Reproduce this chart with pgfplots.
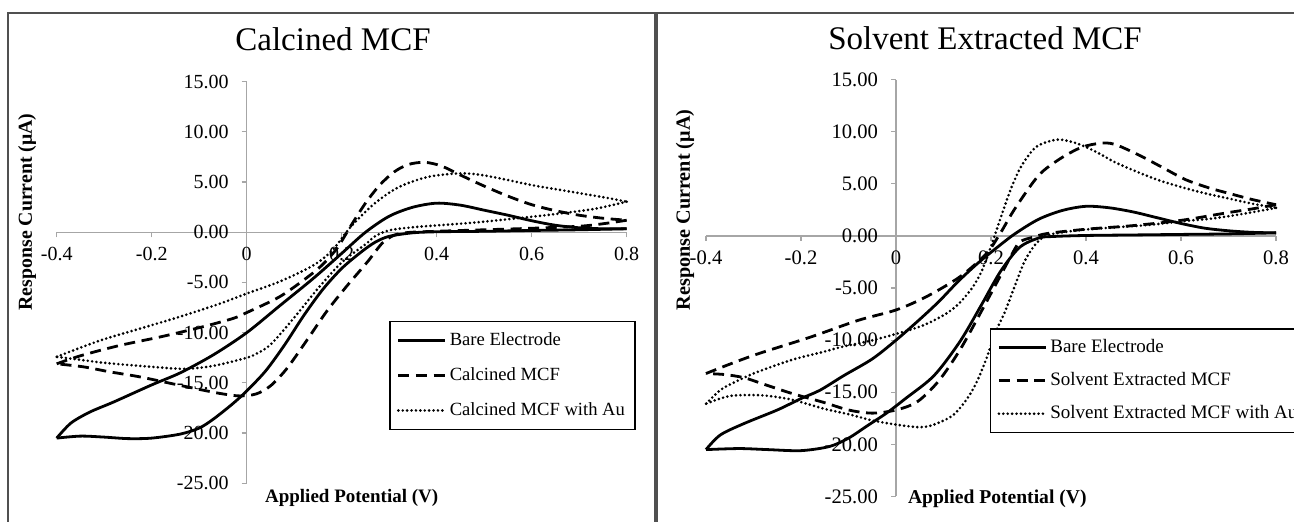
\documentclass[border=0pt]{standalone}
\usepackage{fontspec}
\setmainfont{Liberation Serif}
\usepackage{pgfplots}
\pgfplotsset{compat=1.18}
\definecolor{axisgray}{HTML}{A6A6A6}
\definecolor{framegray}{HTML}{505050}
\pgfplotsset{
  cv/.style={
    scale only axis, width=285pt,
    xmin=-0.4, xmax=0.8, ymin=-25, ymax=15,
    axis lines=middle,
    axis line style={-, draw=axisgray, line width=0.6pt},
    xtick={-0.4,-0.2,0,0.2,0.4,0.6,0.8},
    xticklabels={-0.4,-0.2,0,0.2,0.4,0.6,0.8},
    ytick={-25,-20,-15,-10,-5,0,5,10,15},
    yticklabels={-25.00,-20.00,-15.00,-10.00,-5.00,0.00,5.00,10.00,15.00},
    hide obscured x ticks=false, hide obscured y ticks=false,
    tick align=outside, major tick length=2.5pt,
    tick style={draw=axisgray, line width=0.6pt},
    xticklabel style={yshift=-1.5pt},
    yticklabel style={xshift=-3pt},
    clip=false,
    legend cell align=left,
    legend image code/.code={\draw[##1] (0pt,0pt) -- (23.5pt,0pt);},
  },
  bare/.style={black, line width=1.4pt, smooth, tension=0.5},
  dsh/.style={black, line width=1.4pt, dash pattern=on 5.5pt off 3.3pt, smooth, tension=0.5},
  dtt/.style={black, line width=1.45pt, line cap=round, dash pattern=on 0pt off 2.2pt, smooth, tension=0.5},
}
\begin{document}
\begin{tikzpicture}
\useasboundingbox (0,0) rectangle (647pt,261pt);
\clip (0,0) rectangle (647pt,261pt);
% ---------------- Left panel ----------------
\begin{axis}[cv, at={(28.35pt,19.35pt)}, anchor=south west, height=200.8pt,
  tick label style={font=\fontsize{10}{11}\selectfont, text=black},
  title={Calcined MCF},
  title style={at={(0.4847,1.0466)}, anchor=base, font=\fontsize{16.5}{18}\selectfont},
  xlabel={Applied Potential (V)},
  every axis x label/.style={at={(axis description cs:0.3532,-0.0366)}, anchor=west, font=\bfseries\fontsize{9.5}{11}\selectfont},
  ylabel={Response Current (μA)},
  every axis y label/.style={at={(axis description cs:-0.0521,0.6755)}, rotate=90, anchor=center, font=\bfseries\fontsize{9.9}{11}\selectfont},
  legend style={at={(0.5835,0.4049)}, anchor=north west, draw=black, line width=0.6pt, fill=white,
    font=\fontsize{9.3}{11}\selectfont, inner xsep=3.5pt, inner ysep=3.6pt, row sep=5.5pt,
    nodes={inner xsep=1.5pt, inner ysep=2pt, text height=6.5pt, text depth=1.5pt}},
]
\addplot[bare] coordinates {(-0.4,-20.5) (-0.37,-19.0) (-0.33,-17.9) (-0.28,-16.9) (-0.2,-15.2) (-0.14,-14.0) (-0.07,-12.2) (0,-10.0) (0.07,-7.3) (0.14,-4.6) (0.2,-2.1) (0.25,0.0) (0.3,1.6) (0.35,2.5) (0.4,2.9) (0.45,2.7) (0.5,2.2) (0.55,1.7) (0.6,1.15) (0.65,0.7) (0.7,0.45) (0.75,0.35) (0.8,0.35)};
\addlegendentry{Bare Electrode}
\addplot[bare, forget plot] coordinates {(0.8,0.35) (0.7,0.25) (0.6,0.18) (0.5,0.1) (0.4,0.05) (0.35,-0.05) (0.3,-0.4) (0.27,-1.0) (0.24,-2.0) (0.2,-3.6) (0.16,-5.7) (0.12,-8.3) (0.08,-11.2) (0.04,-13.8) (0,-15.8) (-0.03,-17.1) (-0.07,-18.6) (-0.1,-19.5) (-0.14,-20.1) (-0.2,-20.5) (-0.25,-20.55) (-0.3,-20.4) (-0.35,-20.3) (-0.4,-20.5)};
\addplot[dsh] coordinates {(-0.4,-13.1) (-0.35,-12.3) (-0.27,-11.3) (-0.18,-10.4) (-0.1,-9.5) (-0.03,-8.6) (0,-8.0) (0.07,-6.4) (0.13,-4.4) (0.16,-3.2) (0.19,-1.6) (0.22,0.7) (0.25,2.9) (0.28,4.7) (0.31,6.0) (0.34,6.75) (0.375,6.97) (0.41,6.6) (0.45,5.7) (0.5,4.6) (0.55,3.6) (0.6,2.75) (0.65,2.15) (0.7,1.7) (0.75,1.4) (0.8,1.2)};
\addlegendentry{Calcined MCF}
\addplot[dsh, forget plot] coordinates {(0.8,1.2) (0.75,0.85) (0.7,0.6) (0.6,0.4) (0.5,0.25) (0.4,0.1) (0.34,-0.02) (0.31,-0.3) (0.285,-1.1) (0.255,-2.9) (0.21,-5.4) (0.168,-7.9) (0.126,-10.8) (0.084,-13.6) (0.05,-15.3) (0.02,-16.1) (-0.014,-16.3) (-0.05,-16.1) (-0.084,-15.8) (-0.155,-15.1) (-0.225,-14.4) (-0.288,-13.9) (-0.344,-13.4) (-0.4,-13.1)};
\addplot[dtt] coordinates {(-0.4,-12.4) (-0.31,-10.8) (-0.225,-9.6) (-0.14,-8.4) (-0.056,-7.1) (0,-6.1) (0.07,-4.9) (0.14,-3.3) (0.18,-1.8) (0.22,0.6) (0.27,2.9) (0.32,4.5) (0.38,5.5) (0.44,5.85) (0.48,5.8) (0.53,5.4) (0.6,4.7) (0.65,4.3) (0.7,3.9) (0.75,3.5) (0.8,3.05)};
\addlegendentry{Calcined MCF with Au}
\addplot[dtt, forget plot] coordinates {(0.8,3.05) (0.74,2.4) (0.69,2.05) (0.62,1.65) (0.55,1.3) (0.48,0.97) (0.41,0.72) (0.35,0.5) (0.3,0.2) (0.27,-0.4) (0.25,-1.2) (0.2,-3.0) (0.15,-5.6) (0.1,-8.5) (0.05,-11.2) (0.02,-12.1) (0,-12.5) (-0.07,-13.3) (-0.13,-13.6) (-0.2,-13.4) (-0.3,-13.0) (-0.35,-12.7) (-0.4,-12.4)};
\end{axis}
% ---------------- Right panel ----------------
\begin{axis}[cv, at={(353pt,12.75pt)}, anchor=south west, height=208.4pt,
  tick label style={font=\fontsize{10.3}{11}\selectfont, text=black},
  title={Solvent Extracted MCF},
  title style={at={(0.4895,1.0425)}, anchor=base, font=\fontsize{16.5}{18}\selectfont},
  xlabel={Applied Potential (V)},
  every axis x label/.style={at={(axis description cs:0.342,-0.006)}, anchor=west, font=\bfseries\fontsize{9.8}{11}\selectfont},
  ylabel={Response Current (μA)},
  every axis y label/.style={at={(axis description cs:-0.0368,0.6874)}, rotate=90, anchor=center, font=\bfseries\fontsize{10.1}{11}\selectfont},
  legend style={at={(0.498,0.4035)}, anchor=north west, draw=black, line width=0.6pt, fill=white,
    font=\fontsize{9.5}{11}\selectfont, inner xsep=3.5pt, inner ysep=3.4pt, row sep=4.5pt,
    nodes={inner xsep=1.5pt, inner ysep=2pt, text height=6.5pt, text depth=1.5pt}},
]
\addplot[bare] coordinates {(-0.4,-20.5) (-0.37,-19.1) (-0.32,-18.0) (-0.25,-16.7) (-0.2,-15.6) (-0.16,-14.8) (-0.11,-13.4) (-0.05,-11.8) (0,-10.0) (0.05,-8.0) (0.09,-6.3) (0.13,-4.4) (0.17,-2.7) (0.21,-1.2) (0.25,0.2) (0.3,1.6) (0.35,2.45) (0.4,2.85) (0.45,2.7) (0.5,2.3) (0.55,1.75) (0.6,1.2) (0.65,0.75) (0.7,0.5) (0.75,0.35) (0.8,0.3)};
\addlegendentry{Bare Electrode}
\addplot[bare, forget plot] coordinates {(0.8,0.3) (0.7,0.2) (0.6,0.15) (0.5,0.1) (0.4,0.05) (0.33,-0.05) (0.3,-0.2) (0.26,-1.1) (0.22,-3.4) (0.18,-6.6) (0.135,-10.1) (0.08,-13.4) (0.02,-15.6) (-0.02,-17.0) (-0.06,-18.2) (-0.1,-19.4) (-0.14,-20.2) (-0.2,-20.6) (-0.27,-20.5) (-0.33,-20.4) (-0.4,-20.5)};
\addplot[dsh] coordinates {(-0.4,-13.2) (-0.35,-12.3) (-0.29,-11.3) (-0.18,-9.7) (-0.08,-8.1) (0,-7.1) (0.065,-5.8) (0.135,-3.9) (0.19,-1.7) (0.22,0.3) (0.25,2.6) (0.3,5.8) (0.345,7.4) (0.39,8.5) (0.43,8.9) (0.46,8.8) (0.51,7.8) (0.56,6.6) (0.61,5.4) (0.66,4.6) (0.7,4.1) (0.75,3.5) (0.8,3.0)};
\addlegendentry{Solvent Extracted MCF}
\addplot[dsh, forget plot] coordinates {(0.8,3.0) (0.75,2.6) (0.7,2.25) (0.6,1.5) (0.5,1.0) (0.4,0.65) (0.32,0.25) (0.29,-0.1) (0.26,-0.6) (0.24,-2.1) (0.22,-3.8) (0.18,-7.2) (0.135,-10.9) (0.09,-13.9) (0.045,-15.9) (0,-16.7) (-0.05,-17.0) (-0.1,-16.7) (-0.15,-16.0) (-0.22,-15.1) (-0.28,-14.2) (-0.32,-13.6) (-0.36,-13.3) (-0.4,-13.2)};
\addplot[dtt] coordinates {(-0.4,-16.1) (-0.38,-15.2) (-0.36,-14.5) (-0.3,-13.2) (-0.22,-11.9) (-0.16,-11.2) (-0.11,-10.6) (-0.04,-9.9) (0.05,-8.7) (0.1,-7.6) (0.13,-6.6) (0.16,-5.0) (0.18,-3.4) (0.2,-1.0) (0.22,1.7) (0.24,4.3) (0.26,6.4) (0.28,7.8) (0.3,8.7) (0.34,9.25) (0.38,8.9) (0.42,8.1) (0.46,7.1) (0.5,6.3) (0.55,5.4) (0.6,4.7) (0.65,4.1) (0.7,3.6) (0.75,3.1) (0.8,2.7)};
\addlegendentry{Solvent Extracted MCF with Au}
\addplot[dtt, forget plot] coordinates {(0.8,2.7) (0.74,2.2) (0.67,1.7) (0.6,1.4) (0.53,1.05) (0.46,0.83) (0.39,0.58) (0.33,0.2) (0.31,-0.1) (0.29,-1.0) (0.27,-2.5) (0.25,-4.8) (0.23,-7.2) (0.21,-9.2) (0.19,-11.8) (0.17,-14.0) (0.15,-15.6) (0.12,-17.2) (0.08,-18.1) (0.05,-18.35) (0,-18.1) (-0.05,-17.7) (-0.1,-17.1) (-0.15,-16.6) (-0.22,-15.7) (-0.28,-15.3) (-0.34,-15.3) (-0.37,-15.6) (-0.4,-16.1)};
\end{axis}
\draw[framegray, line width=1pt] (3.8pt,-10pt) -- (3.8pt,254.5pt) -- (327.3pt,254.5pt) -- (327.3pt,-10pt);
\draw[framegray, line width=1pt] (328.3pt,-10pt) -- (328.3pt,254.5pt) -- (660pt,254.5pt);
\end{tikzpicture}
\end{document}
